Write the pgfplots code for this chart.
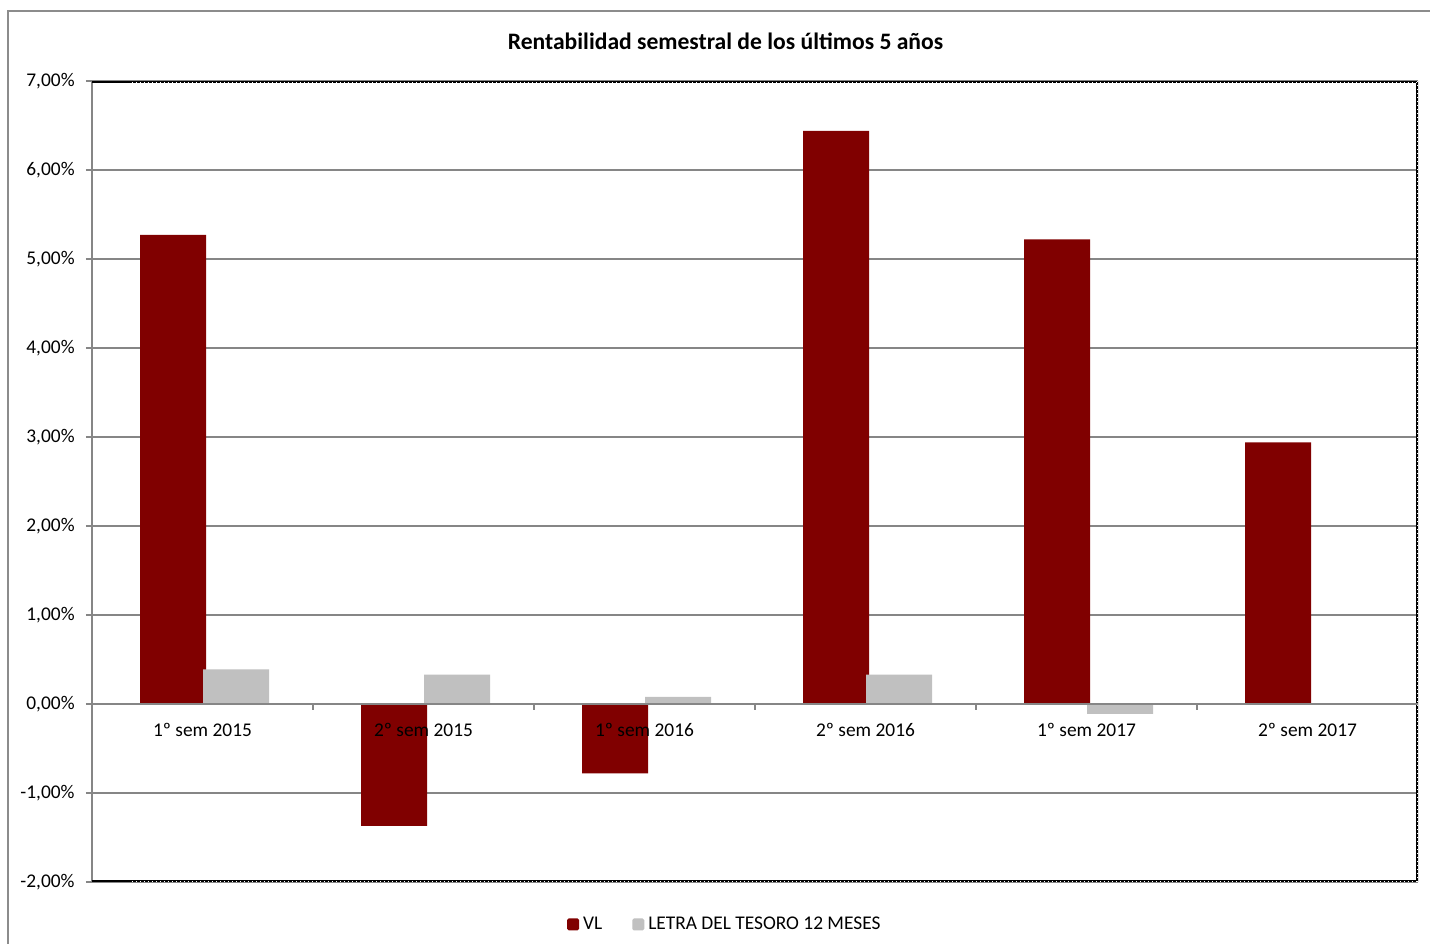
\documentclass[border=0pt]{standalone}
\usepackage{pgfplots}
\pgfplotsset{compat=1.18}
\usepackage{fontspec}
\setmainfont{Carlito}
\definecolor{vlred}{RGB}{128,0,0}
\definecolor{letragray}{RGB}{192,192,192}
\definecolor{gridgray}{RGB}{134,134,134}
\definecolor{framegray}{RGB}{140,140,140}
\newcommand{\lblfont}{\fontsize{9.7bp}{11bp}\selectfont}
\pgfplotsset{
  mygeom/.style={
    at={(46bp,31bp)}, anchor=south west,
    scale only axis, width=663bp, height=400.5bp,
    xmin=-0.5, xmax=5.5, ymin=-2, ymax=7,
  },
}
\begin{document}
\begin{tikzpicture}
\fill[white] (0,0) rectangle (715bp,472bp);
\draw[framegray, line width=1.1bp] (4bp,-5bp) -- (4bp,466.5bp) -- (725bp,466.5bp);
\node[font=\fontsize{11.8bp}{14bp}\selectfont\bfseries] at (362.75bp,451.5bp) {Rentabilidad semestral de los últimos 5 años};
\begin{axis}[
  mygeom,
  axis x line=none, axis y line=left,
  axis line style={draw=gridgray, line width=1bp, -},
  ytick={-2,-1,0,1,2,3,4,5,6,7},
  yticklabels={{-2,00\%},{-1,00\%},{0,00\%},{1,00\%},{2,00\%},{3,00\%},{4,00\%},{5,00\%},{6,00\%},{7,00\%}},
  yticklabel style={anchor=east, inner sep=0pt, xshift=-5.5bp, font=\lblfont},
  ymajorgrids, grid style={draw=gridgray, line width=1bp},
  tick align=outside, major tick length=3bp,
  tick style={draw=gridgray, line width=1bp},
  ybar, bar width=0.298,
  legend style={at={(0.478,-0.053)}, anchor=center, draw=none, fill=none, font=\lblfont,
    legend columns=2, /tikz/every even column/.append style={column sep=13bp},
    inner sep=0pt},
  legend image code/.code={\fill[#1, rounded corners=0.8bp] (0bp,-3bp) rectangle (6bp,3bp);},
  legend cell align=left,
]
\addplot[fill=vlred, draw=none, bar shift=-0.133] coordinates {
  (0,5.27) (1,-1.37) (2,-0.78) (3,6.44) (4,5.22) (5,2.94)};
\addlegendentry{VL}
\addplot[fill=letragray, draw=none, bar shift=0.152] coordinates {
  (0,0.39) (1,0.33) (2,0.08) (3,0.33) (4,-0.11) (5,0)};
\addlegendentry{LETRA DEL TESORO 12 MESES}
\draw[black, line width=1.6bp] (rel axis cs:0,1) -- (rel axis cs:1,1) -- (rel axis cs:1,0) -- (rel axis cs:0,0);
\draw[white, line width=0.35bp, dash pattern=on 0.6bp off 1.4bp] ([yshift=-0.55bp]rel axis cs:0.03,1) -- ([yshift=-0.55bp]rel axis cs:1,1);
\draw[white, line width=0.35bp, dash pattern=on 0.6bp off 1.4bp] ([xshift=-0.55bp]rel axis cs:1,1) -- ([xshift=-0.55bp]rel axis cs:1,0);
\draw[white, line width=0.35bp, dash pattern=on 0.6bp off 1.4bp] ([yshift=0.55bp]rel axis cs:0.03,0) -- ([yshift=0.55bp]rel axis cs:1,0);
\end{axis}
\begin{axis}[
  mygeom,
  axis x line=middle, axis y line=none,
  axis line style={draw=gridgray, line width=1bp, -},
  xtick={0.5,1.5,2.5,3.5,4.5},
  xticklabels={},
  extra x ticks={0,1,2,3,4,5},
  extra x tick labels={1º sem 2015,2º sem 2015,1º sem 2016,2º sem 2016,1º sem 2017,2º sem 2017},
  extra x tick style={major tick length=0pt, xticklabel style={anchor=center, yshift=-13bp, font=\lblfont}},
  tick align=outside, major tick length=3bp,
  tick style={draw=gridgray, line width=1bp},
]
\end{axis}
\pgfresetboundingbox
\path[use as bounding box] (0,0) rectangle (715bp,472bp);
\end{tikzpicture}
\end{document}
